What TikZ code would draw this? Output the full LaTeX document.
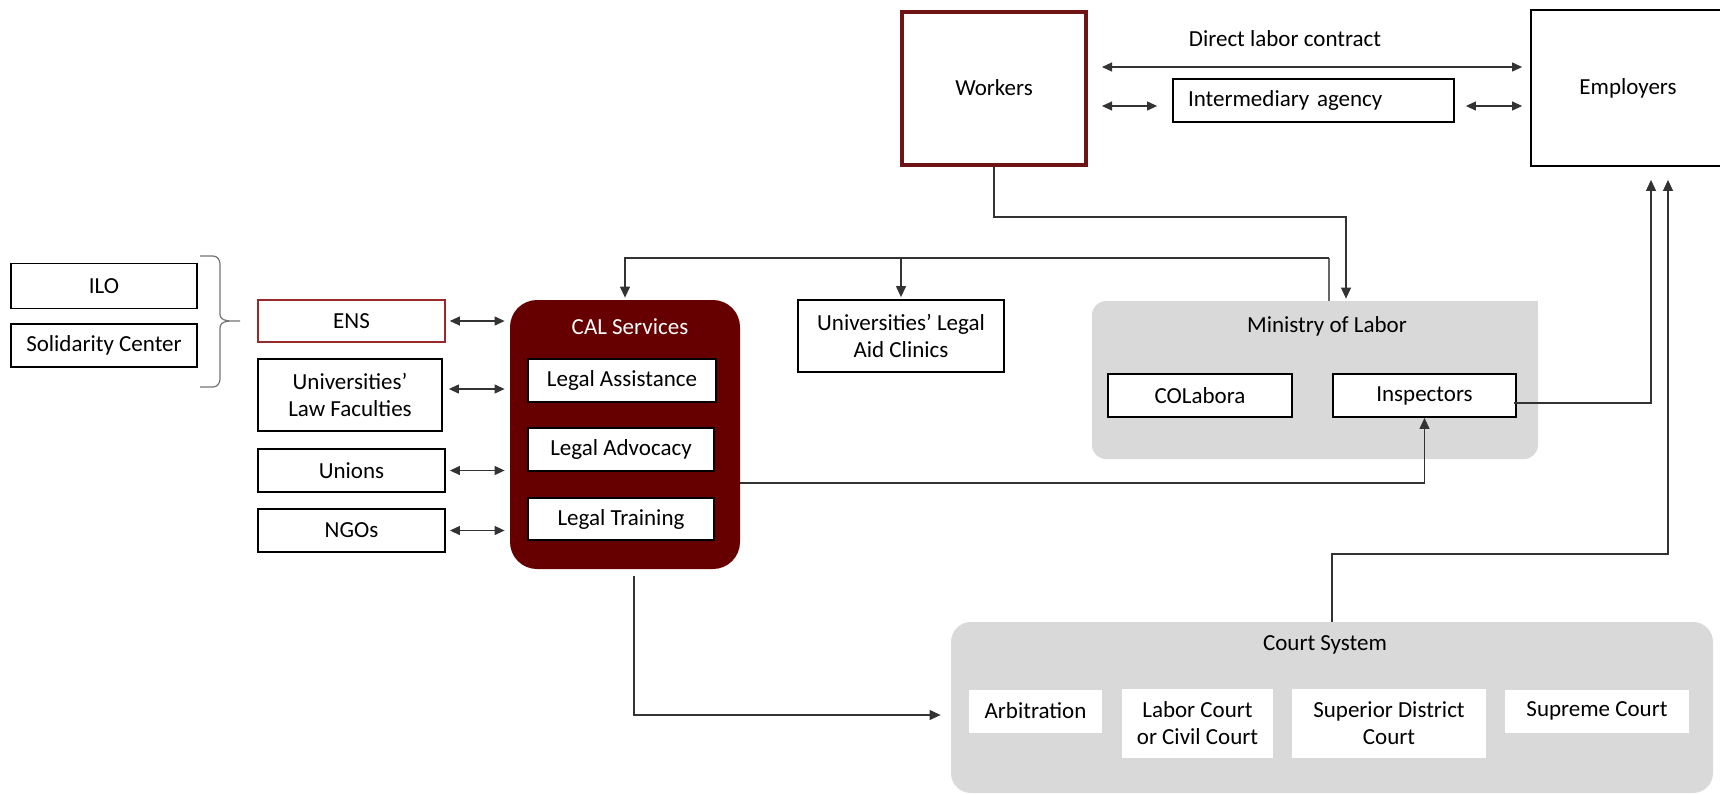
\documentclass[tikz,border=0pt]{standalone}
\usepackage{fontspec}
\setmainfont{Carlito}
\usetikzlibrary{arrows.meta}
\definecolor{calred}{HTML}{660000}
\definecolor{wkred}{HTML}{6E1414}
\definecolor{ensred}{HTML}{9A2A2A}
\definecolor{panel}{HTML}{D9D9D9}
\tikzset{
  every node/.style={font=\fontsize{11.5}{13.5}\selectfont},
  box/.style={draw, line width=0.9pt, fill=white, inner sep=0pt, align=center},
  plain/.style={fill=white, inner sep=0pt, align=center},
  conn/.style={line width=0.55pt, draw=black!80},
  arr/.style={conn, -{Triangle[length=5.5pt,width=5pt]}},
  dbl/.style={conn, {Triangle[length=5pt,width=4.5pt]}-{Triangle[length=5pt,width=4.5pt]}},
}
\begin{document}
\begin{tikzpicture}[x=0.5pt,y=-0.5pt]
\useasboundingbox (0,0) rectangle (1720,794);
\clip (0,0) rectangle (1720,794);

% grey panels
\node[fill=panel, rounded corners=7pt, minimum width=223pt, minimum height=79pt, inner sep=0pt] (ministry) at (1315,380) {};
\fill[panel] (1510,301) rectangle (1538,330);
\node (mintitle) at (1327,326) {Ministry of Labor};
\node[fill=panel, rounded corners=10pt, minimum width=381pt, minimum height=85.5pt, inner sep=0pt] (court) at (1332,707.5) {};
\node (courttitle) at (1325,645) {Court System};

% CAL services block
\node[fill=calred, rounded corners=13.5pt, minimum width=115pt, minimum height=134.5pt, inner sep=0pt] (cal) at (625,434.5) {};
\node[text=white] (caltitle) at (630,327) {CAL Services};
\node[box, minimum width=94pt, minimum height=21.5pt] (assist) at (622,380.5) {Legal Assistance};
\node[box, minimum width=93pt, minimum height=21.5pt] (advocacy) at (621,449.5) {Legal Advocacy};
\node[box, minimum width=93pt, minimum height=21pt] (training) at (621,519) {Legal Training};

% supporters
\node[box, minimum width=93pt, minimum height=22.5pt] (ilo) at (104,286) {ILO};
\node[box, minimum width=93pt, minimum height=21.5pt] (solidarity) at (104,345.5) {Solidarity Center};
\draw[black!55, line width=0.6pt] (200,256) -- (213,256) to[out=0,in=90] (220,264) -- (220,314)
  to[out=-90,in=180] (240,321) to[out=180,in=90] (220,328) -- (220,379) to[out=-90,in=0] (213,387) -- (200,387);
\node[box, draw=ensred, line width=0.8pt, minimum width=93.5pt, minimum height=21pt] (ens) at (351.5,321) {ENS};
\node[box, minimum width=92pt, minimum height=36pt] (lawfac) at (350,395) {Universities’\\Law Faculties};
\node[box, minimum width=93.5pt, minimum height=21.5pt] (unions) at (351.5,470.5) {Unions};
\node[box, minimum width=93.5pt, minimum height=21.5pt] (ngos) at (351.5,530.5) {NGOs};

\draw[dbl, shorten <=2pt, shorten >=2.5pt] (ens.east) -- (ens.east -| cal.west);
\draw[dbl, shorten <=3pt, shorten >=2.5pt] ([yshift=3pt]lawfac.east) -- ([yshift=3pt]lawfac.east -| cal.west);
\draw[dbl, shorten <=2pt, shorten >=2.5pt] (unions.east) -- (unions.east -| cal.west);
\draw[dbl, shorten <=2pt, shorten >=2.5pt] (ngos.east) -- (ngos.east -| cal.west);

% clinics
\node[box, minimum width=103pt, minimum height=36pt] (aid) at (901,336) {Universities’ Legal\\Aid Clinics};

% ministry units
\node[box, minimum width=92pt, minimum height=21.5pt] (colabora) at (1200,395.5) {COLabora};
\node[box, minimum width=91.5pt, minimum height=21.5pt] (insp) at (1424.5,395.5) {Inspectors};

% court instances
\node[plain, minimum width=66.5pt, minimum height=21.5pt] (arb) at (1035.5,711) {Arbitration};
\node[plain, minimum width=75.5pt, minimum height=34.5pt] (labor) at (1197.5,723.5) {Labor Court\\or Civil Court};
\node[plain, minimum width=97pt, minimum height=34.5pt] (superior) at (1389,723.5) {Superior District\\Court};
\node[plain, minimum width=92pt, minimum height=21.5pt] (supreme) at (1597,711) {Supreme Court};

% labour relation
\node[draw=wkred, line width=2pt, minimum width=92pt, minimum height=76.5pt, inner sep=0pt] (workers) at (994,88) {Workers};
\node[box, minimum width=97pt, minimum height=78pt] (employers) at (1628,88) {Employers};
\node[box, text width=125.5pt, inner xsep=7.5pt, minimum height=21.5pt, align=left] (agency) at (1313.5,100.5) {Intermediary agency};
\node (direct) at (1285,39) {Direct labor contract};

\coordinate (dlc) at (1300,67);
\coordinate (ag) at (1300,106);
\draw[dbl, shorten <=7pt, shorten >=4pt] (workers.east |- dlc) -- (employers.west |- dlc);
\draw[dbl, shorten <=7pt, shorten >=7.5pt] (workers.east |- ag) -- (agency.west |- ag);
\draw[dbl, shorten <=5.5pt, shorten >=4pt] (agency.east |- ag) -- (employers.west |- ag);

% workers to ministry
\coordinate (wm) at (1346,217);
\draw[arr, shorten >=1pt] (workers.south) |- (wm) -- (wm |- ministry.north);

% ministry to CAL and clinics
\coordinate (mc) at (1329,258);
\draw[conn, draw=black!60] (ministry.north -| mc) -- (mc);
\draw[arr, shorten >=1pt] (mc) -| (cal.north);
\draw[arr, shorten >=1pt] (aid.north |- mc) -- (aid.north);

% CAL to inspectors
\coordinate (ci) at (1425,483);
\draw[arr] (cal.east |- ci) -| (insp.south);

% inspectors to employers
\coordinate (ie) at (1651,403);
\draw[arr, shorten >=6.5pt] ([xshift=-1.5pt]insp.east |- ie) -- (ie) -- (ie |- employers.south);

% court to employers
\coordinate (ce) at (1668,554);
\draw[arr, shorten >=6.5pt] (court.north) |- (ce) -- (ce |- employers.south);

% CAL to court
\coordinate (cc) at (634,715);
\draw[arr, shorten <=3.5pt, shorten >=5pt] (cal.south -| cc) -- (cc) -- (cc -| court.west);
\end{tikzpicture}
\end{document}
